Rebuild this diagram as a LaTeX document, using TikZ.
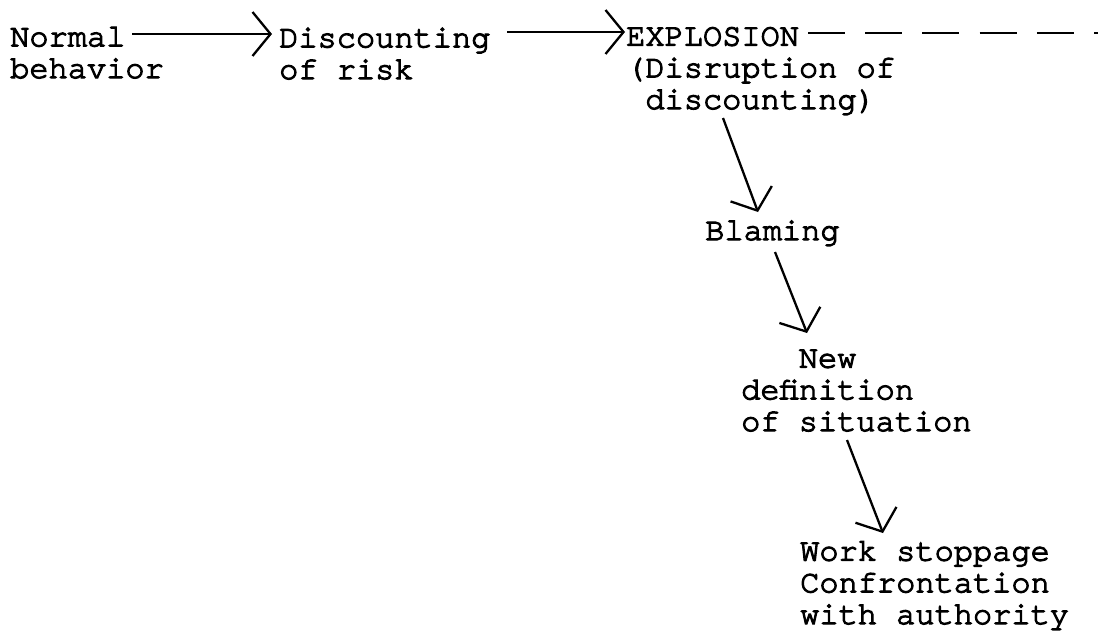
\documentclass[tikz,border=0pt]{standalone}
\usepackage{fontspec}
\newfontfamily\tw{texgyrecursor-regular.otf}[RawFeature={embolden=3.5}]
\usetikzlibrary{arrows.meta}
\begin{document}
\begin{tikzpicture}[x=1pt,y=-1pt,
  txt/.style={anchor=base west,inner sep=0pt,align=left,font=\tw\fontsize{32}{31.7}\selectfont},
  arr/.style={line width=2.3pt,-{Straight Barb[length=18pt,width=44pt,line width=2.3pt]}},
  dsh/.style={line width=2.3pt,dash pattern=on 37pt off 20.2pt}]
\useasboundingbox (0,0) rectangle (1098,630);
% base anchor = baseline of the last line
\node[txt] (normal) at (10,78) {Normal\\behavior};
\node[txt] (discount) at (279,79) {Discounting\\of risk};
\node[txt] (explosion) at (626,109) {EXPLOSION\\(Disruption of\\\hspace*{0.6em}discounting)};
\node[txt] (blaming) at (705,240) {Blaming};
\node[txt] (newdef) at (741,431) {\hspace*{1.8em}New\\definition\\of situation};
\node[txt] (work) at (800,624) {Work stoppage\\Confrontation\\with authority};
\coordinate (dashend) at (1098,33);
\draw[arr] ([shift={(122,-44)}]normal.base west) -- ([shift={(-7,-45)}]discount.base west);
\draw[arr] ([shift={(228,-47)}]discount.base west) -- ([shift={(-1,-77)}]explosion.base west);
\draw[dsh] ([shift={(182,-76)}]explosion.base west) -- (dashend);
\draw[arr] ([shift={(97,9)}]explosion.base west) -- ([shift={(53,-28)}]blaming.base west);
\draw[arr] ([shift={(70,12)}]blaming.base west) -- ([shift={(66,-98)}]newdef.base west);
\draw[arr] ([shift={(106,9)}]newdef.base west) -- ([shift={(83,-91)}]work.base west);
\end{tikzpicture}
\end{document}
